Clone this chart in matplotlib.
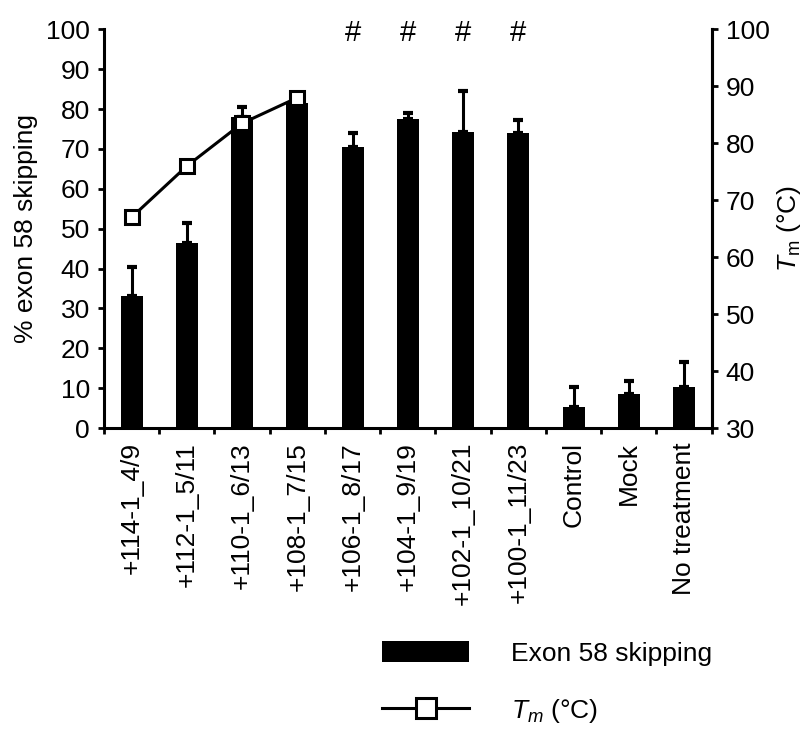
import matplotlib
matplotlib.use("Agg")
import matplotlib.pyplot as plt
import numpy as np

categories = ["+114-1_4/9", "+112-1_5/11", "+110-1_6/13", "+108-1_7/15",
              "+106-1_8/17", "+104-1_9/19", "+102-1_10/21", "+100-1_11/23",
              "Control", "Mock", "No treatment"]
skipping = [33.2, 46.3, 78.0, 81.4, 70.5, 77.4, 74.3, 73.9, 5.3, 8.5, 10.2]
skipping_err = [7.2, 5.2, 2.4, 1.5, 3.4, 1.5, 10.2, 3.3, 5.1, 3.4, 6.4]
tm_idx = [0, 1, 2, 3]
tm_values = [67.0, 76.0, 83.5, 88.0]
hash_marked = [4, 5, 6, 7]

plt.rcParams['font.family'] = ['Liberation Sans', 'DejaVu Sans']
plt.rcParams['mathtext.fontset'] = 'custom'
plt.rcParams['mathtext.rm'] = 'Liberation Sans'
plt.rcParams['mathtext.it'] = 'Liberation Sans:italic'

FS = 19

fig = plt.figure(figsize=(8.06, 7.33), dpi=100)
ax = fig.add_axes([0.129, 0.416, 0.754, 0.544])
x = np.arange(len(categories))
bars = ax.bar(x, skipping, width=0.4, color='black', zorder=2,
              label='Exon 58 skipping')
ax.errorbar(x, skipping, yerr=[np.zeros(len(x)), skipping_err], fmt='none',
            ecolor='black', elinewidth=2.2, capsize=3.5, capthick=3, zorder=1)
ax.set_xlim(-0.5, len(categories) - 0.5)
ax.set_ylim(0, 100)
ax.set_yticks(np.arange(0, 101, 10))
ax.set_xticks(x)
ax.set_xticklabels(categories, rotation=90, fontsize=FS)
ax.set_xticks(np.arange(-0.5, len(categories), 1), minor=True)
ax.tick_params(axis='x', which='major', length=0, pad=10)
ax.tick_params(axis='x', which='minor', length=4, width=2, direction='out')
ax.tick_params(axis='y', labelsize=FS, length=4, width=2, direction='out', pad=6)
ax.set_ylabel('% exon 58 skipping', fontsize=FS, labelpad=6)
ax.spines['top'].set_visible(False)
for s in ['left', 'bottom', 'right']:
    ax.spines[s].set_linewidth(2.2)

for i in hash_marked:
    ax.text(x[i], 99, '#', ha='center', va='center', fontsize=FS + 2)

ax2 = ax.twinx()
ax2.set_ylim(30, 100)
ax2.set_yticks(np.arange(30, 101, 10))
ax2.tick_params(axis='y', labelsize=FS, length=4, width=2, direction='out', pad=6)
ax2.spines['top'].set_visible(False)
ax2.spines['right'].set_linewidth(2.2)
ax2.set_ylabel(r'$T_{\rm m}$ (°C)', fontsize=FS, labelpad=4)
line, = ax2.plot(x[tm_idx], tm_values, color='black', linewidth=2.2,
                 marker='s', markersize=10, markerfacecolor='white',
                 markeredgecolor='black', markeredgewidth=2.2)

fig.legend(handles=[bars, line], labels=['Exon 58 skipping', r'$T_m$ (°C)'],
           loc='upper left', bbox_to_anchor=(0.474, 1 - 641 / 733),
           bbox_transform=fig.transFigure, frameon=False,
           fontsize=FS, handlelength=3.3, handleheight=0.85, handletextpad=1.6,
           labelspacing=1.2, borderpad=0, borderaxespad=0, markerscale=1.5)

fig.savefig('out.png', dpi=100)
